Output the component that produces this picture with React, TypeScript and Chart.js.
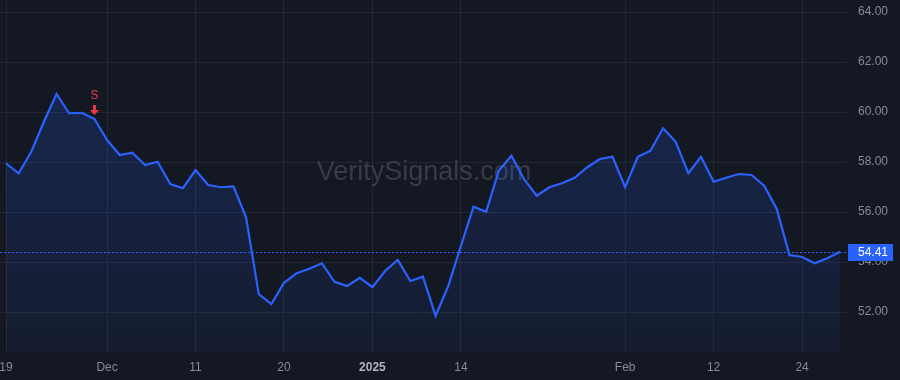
import React, { useEffect, useRef } from "react";
import { Chart, registerables } from "chart.js";

Chart.register(...registerables);

const dates: string[] = [
  "2024-11-19", "2024-11-20", "2024-11-21", "2024-11-22", "2024-11-25", "2024-11-26", "2024-11-27", "2024-11-29",
  "2024-12-02", "2024-12-03", "2024-12-04", "2024-12-05", "2024-12-06", "2024-12-09", "2024-12-10", "2024-12-11",
  "2024-12-12", "2024-12-13", "2024-12-16", "2024-12-17", "2024-12-18", "2024-12-19", "2024-12-20",
  "2024-12-23", "2024-12-24", "2024-12-26", "2024-12-27", "2024-12-30", "2024-12-31",
  "2025-01-02", "2025-01-03", "2025-01-06", "2025-01-07", "2025-01-08", "2025-01-10", "2025-01-13", "2025-01-14",
  "2025-01-15", "2025-01-16", "2025-01-17", "2025-01-21", "2025-01-22", "2025-01-23", "2025-01-24",
  "2025-01-27", "2025-01-28", "2025-01-29", "2025-01-30", "2025-01-31",
  "2025-02-03", "2025-02-04", "2025-02-05", "2025-02-06", "2025-02-07", "2025-02-10", "2025-02-11", "2025-02-12",
  "2025-02-13", "2025-02-14", "2025-02-18", "2025-02-19", "2025-02-20", "2025-02-21", "2025-02-24",
  "2025-02-25", "2025-02-26", "2025-02-27",
];

const prices: number[] = [
  57.95, 57.55, 58.41, 59.61, 60.72, 59.95, 59.97, 59.72,
  58.88, 58.28, 58.37, 57.88, 58.01, 57.12, 56.95, 57.68,
  57.08, 56.99, 57.02, 55.79, 52.72, 52.32, 53.17,
  53.55, 53.73, 53.95, 53.21, 53.04, 53.37,
  52.99, 53.64, 54.08, 53.24, 53.41, 51.85, 53.04, 54.64,
  56.21, 56.01, 57.65, 58.25, 57.31, 56.65, 56.99,
  57.15, 57.37, 57.79, 58.12, 58.21,
  56.99, 58.21, 58.45, 59.35, 58.81, 57.55, 58.21, 57.21,
  57.37, 57.52, 57.48, 57.05, 56.12, 54.28, 54.2,
  53.95, 54.15, 54.41,
];

const xTickIndex: number[] = [0, 8, 15, 22, 29, 36, 49, 56, 63];
const xTickLabels: string[] = ["19", "Dec", "11", "20", "2025", "14", "Feb", "12", "24"];
const yTicks: number[] = [52, 54, 56, 58, 60, 62, 64];
const signalIndex = 7;
const signalLabel = "S";
const lastPrice = 54.41;
const watermark = "VeritySignals.com";

const BG = "#141823";
const GRID = "#232732";
const LINE = "#2962ff";
const TEXT = "#878b94";
const FONT = "'Liberation Sans', Arial, Helvetica, sans-serif";

export default function App() {
  const ref = useRef<HTMLCanvasElement | null>(null);

  useEffect(() => {
    document.body.style.margin = "0";
    document.body.style.background = BG;
    const canvas = ref.current;
    if (!canvas) return;

    const overlay = {
      id: "overlay",
      beforeDraw(chart: any) {
        const ctx = chart.ctx;
        ctx.save();
        ctx.fillStyle = BG;
        ctx.fillRect(0, 0, chart.width, chart.height);
        ctx.restore();
      },
      beforeDatasetsDraw(chart: any) {
        const ctx = chart.ctx;
        const ca = chart.chartArea;
        ctx.save();
        ctx.font = `27px ${FONT}`;
        ctx.fillStyle = "#383c46";
        ctx.textAlign = "center";
        ctx.textBaseline = "middle";
        ctx.fillText(watermark, 424, 173);
        ctx.restore();
        const y = chart.scales.y.getPixelForValue(lastPrice);
        ctx.save();
        ctx.strokeStyle = LINE;
        ctx.lineWidth = 1;
        ctx.setLineDash([2, 2]);
        ctx.beginPath();
        ctx.moveTo(ca.left, Math.round(y) + 0.5);
        ctx.lineTo(ca.right, Math.round(y) + 0.5);
        ctx.stroke();
        ctx.restore();
      },
      afterDraw(chart: any) {
        const ctx = chart.ctx;
        const xs = chart.scales.x;
        const ys = chart.scales.y;
        const sx = xs.getPixelForValue(signalIndex);
        const sy = ys.getPixelForValue(prices[signalIndex]);
        ctx.save();
        ctx.fillStyle = "#f23645";
        ctx.font = `12px ${FONT}`;
        ctx.textAlign = "center";
        ctx.textBaseline = "middle";
        ctx.fillText(signalLabel, sx, sy - 23);
        const tip = sy - 4;
        ctx.beginPath();
        ctx.moveTo(sx - 1.5, tip - 10);
        ctx.lineTo(sx + 1.5, tip - 10);
        ctx.lineTo(sx + 1.5, tip - 5);
        ctx.lineTo(sx + 4.5, tip - 5);
        ctx.lineTo(sx, tip);
        ctx.lineTo(sx - 4.5, tip - 5);
        ctx.lineTo(sx - 1.5, tip - 5);
        ctx.closePath();
        ctx.fill();
        ctx.restore();
        const py = ys.getPixelForValue(lastPrice);
        ctx.save();
        ctx.fillStyle = LINE;
        ctx.fillRect(848, Math.round(py) - 8, 45, 17);
        ctx.fillStyle = "#ffffff";
        ctx.font = `12px ${FONT}`;
        ctx.textAlign = "left";
        ctx.textBaseline = "middle";
        ctx.fillText(lastPrice.toFixed(2), 858, Math.round(py) + 0.5);
        ctx.restore();
      },
    };

    const chart = new Chart(canvas, {
      type: "line",
      data: {
        labels: dates,
        datasets: [
          {
            data: prices.map((v, i) => ({ x: i, y: v })),
            borderColor: LINE,
            borderWidth: 2.2,
            pointRadius: 0,
            tension: 0,
            fill: "start",
            backgroundColor: (c: any) => {
              const ca = c.chart.chartArea;
              if (!ca) return "rgba(41,98,255,0.15)";
              const g = c.chart.ctx.createLinearGradient(0, ca.top, 0, ca.bottom);
              g.addColorStop(0, "rgba(41,98,255,0.24)");
              g.addColorStop(1, "rgba(41,98,255,0.06)");
              return g;
            },
          },
        ],
      },
      options: {
        responsive: false,
        animation: false,
        layout: { padding: 0 },
        plugins: { legend: { display: false }, tooltip: { enabled: false } },
        scales: {
          x: {
            type: "linear",
            min: -0.475,
            max: 66.557,
            grid: { color: GRID, drawTicks: false },
            border: { display: false },
            afterBuildTicks: (s: any) => {
              s.ticks = xTickIndex.map((v) => ({ value: v }));
            },
            afterFit: (s: any) => {
              s.height = 28;
              s.paddingLeft = 0;
              s.paddingRight = 0;
            },
            ticks: {
              padding: 8,
              maxRotation: 0,
              autoSkip: false,
              callback: (v: any) => {
                const k = xTickIndex.indexOf(Number(v));
                return k >= 0 ? xTickLabels[k] : "";
              },
              color: (c: any) => (c.tick && c.tick.value === 29 ? "#b2b5be" : TEXT),
              font: (c: any) =>
                c.tick && c.tick.value === 29
                  ? { family: FONT, size: 12, weight: "bold" }
                  : { family: FONT, size: 12 },
            },
          },
          y: {
            position: "right",
            min: 50.4,
            max: 64.48,
            grid: { color: GRID, drawTicks: false },
            border: { display: false },
            afterBuildTicks: (s: any) => {
              s.ticks = yTicks.map((v) => ({ value: v }));
            },
            afterFit: (s: any) => {
              s.width = 53;
              s.paddingTop = 0;
              s.paddingBottom = 0;
            },
            ticks: {
              padding: 11,
              color: TEXT,
              font: { family: FONT, size: 12 },
              callback: (v: any) => Number(v).toFixed(2),
            },
          },
        },
      },
      plugins: [overlay],
    } as any);

    return () => chart.destroy();
  }, []);

  return (
    <div style={{ width: 900, height: 380, background: BG }}>
      <canvas ref={ref} width={900} height={380} style={{ display: "block" }} />
    </div>
  );
}
